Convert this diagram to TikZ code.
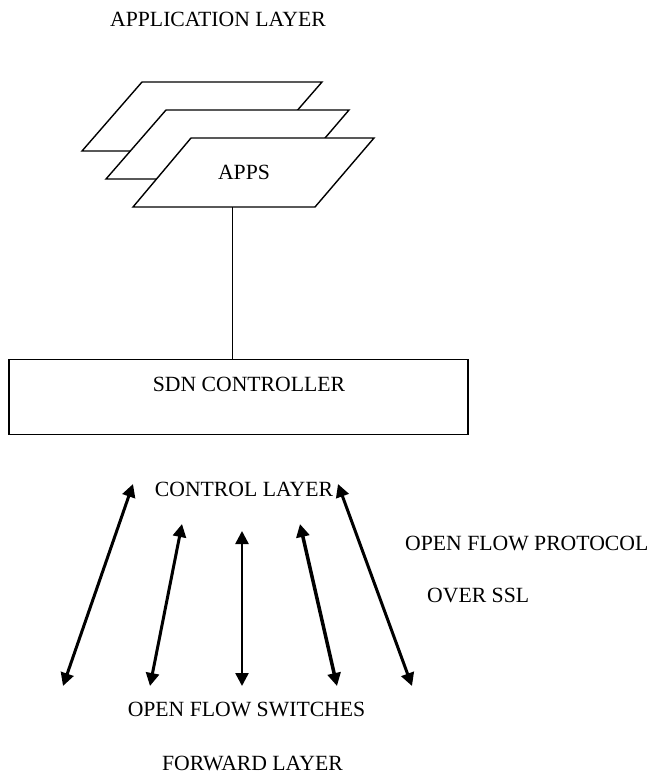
\documentclass[tikz,border=0pt]{standalone}
\usepackage{fontspec}
\setmainfont{Liberation Serif}
\usetikzlibrary{arrows.meta}
\tikzset{
  lbl/.style={font=\fontsize{21.7}{26}\selectfont, inner sep=0pt, anchor=base},
  sheet/.style={draw=black, line width=1.4pt, fill=white, line join=miter},
  dbl/.style={line width=3pt, {Triangle[length=13pt,width=13pt]}-{Triangle[length=13pt,width=13pt]}},
  plain/.style={draw=black, line width=1.4pt}
}
\begin{document}
\begin{tikzpicture}[x=1pt,y=-1pt]
\useasboundingbox (0,0) rectangle (648,774);
% application layer sheets
\draw[sheet] (142,82) -- (322,82) -- (262,151) -- (82,151) -- cycle;
\draw[sheet] (166,110) -- (349,110) -- (290,179) -- (106,179) -- cycle;
\draw[sheet] (191,138) -- (374,138) -- (315,207) -- (133,207) -- cycle;
\node[lbl] (title) at (218,26.7) {APPLICATION LAYER};
\node[lbl] (apps) at (244,179) {APPS};
\coordinate (appsbot) at (232.5,207);
% controller
\node[plain, minimum width=459pt, minimum height=75pt, inner sep=0pt] (ctrl) at (238.5,396.8) {};
\node[lbl] (ctrltxt) at (249,391) {SDN CONTROLLER};
\draw[plain] (appsbot) -- (appsbot |- ctrl.north);
\node[lbl] (ctrllayer) at (244,496) {CONTROL LAYER};
\node[lbl, anchor=base west] (ofp) at (405,550) {OPEN FLOW PROTOCOL};
\node[lbl, anchor=base west] (ssl) at (427,602.7) {OVER SSL};
\node[lbl] (switches) at (246.5,716.7) {OPEN FLOW SWITCHES};
\node[lbl] (fwd) at (252.5,770) {FORWARD LAYER};
% arrows
\coordinate (t1) at (133,484); \coordinate (b1) at (63,686);
\coordinate (t2) at (182,524); \coordinate (b2) at (150,686);
\coordinate (t3) at (242,531); \coordinate (b3) at (242,686);
\coordinate (t4) at (300,524); \coordinate (b4) at (337,686);
\coordinate (t5) at (338,484); \coordinate (b5) at (412,686);
\draw[dbl] (t1) -- (b1);
\draw[dbl] (t2) -- (b2);
\draw[dbl, line width=2.5pt] (t3) -- (b3);
\draw[dbl, line width=3.5pt] (t4) -- (b4);
\draw[dbl] (t5) -- (b5);
\end{tikzpicture}
\end{document}
